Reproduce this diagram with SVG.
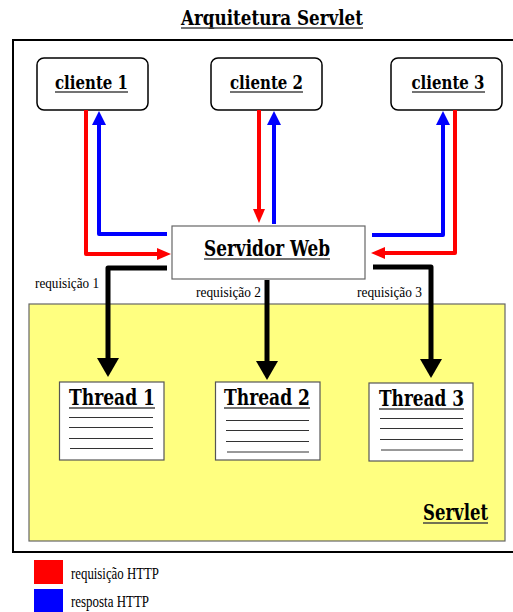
<svg xmlns="http://www.w3.org/2000/svg" width="513" height="612" viewBox="0 0 513 612">
<style>
.bt{font-family:'DejaVu Serif Condensed','DejaVu Serif',serif;font-weight:bold;font-stretch:condensed;fill:#000;text-anchor:middle}
.st{font-family:'Liberation Serif',serif;fill:#000}
.ul{stroke:#444;stroke-width:1.5}
.cl{fill:#fff;stroke:#000;stroke-width:1.5}
.th{fill:#fff;stroke:#555;stroke-width:1.2}
.tl{stroke:#333;stroke-width:1}
.red{fill:none;stroke:#f00;stroke-width:4;stroke-linejoin:round}
.blue{fill:none;stroke:#00f;stroke-width:4;stroke-linejoin:round}
.blk{fill:none;stroke:#000;stroke-width:5;stroke-linejoin:round}
</style>
<defs>
<marker id="aR" viewBox="0 0 14 12" refX="0" refY="6" markerWidth="14" markerHeight="12" orient="auto" markerUnits="userSpaceOnUse"><path d="M0,0 L14,6 L0,12 z" fill="#f00"/></marker>
<marker id="aB" viewBox="0 0 14 14" refX="0" refY="7" markerWidth="14" markerHeight="14" orient="auto" markerUnits="userSpaceOnUse"><path d="M0,0 L14,7 L0,14 z" fill="#00f"/></marker>
<marker id="aK" viewBox="0 0 19 22" refX="0" refY="11" markerWidth="19" markerHeight="22" orient="auto" markerUnits="userSpaceOnUse"><path d="M0,0 L19,11 L0,22 z" fill="#000"/></marker>
</defs>
<rect width="513" height="612" fill="#fff"/>
<g id="title">
<text class="bt" x="272" y="25" font-size="21" textLength="182" lengthAdjust="spacingAndGlyphs">Arquitetura Servlet</text>
<line class="ul" x1="181" y1="28" x2="363" y2="28"/>
</g>
<rect id="frame" x="13" y="40" width="510" height="512" fill="none" stroke="#000" stroke-width="2"/>
<g id="servlet">
<rect x="29" y="304" width="476" height="237" fill="#ffff80" stroke="#666" stroke-width="1.2"/>
<text class="bt" x="455.5" y="520" font-size="22" textLength="65" lengthAdjust="spacingAndGlyphs">Servlet</text>
<line class="ul" x1="423" y1="523" x2="488" y2="523"/>
</g>
<g id="cliente1">
<rect class="cl" x="37" y="58" width="111" height="52" rx="7"/>
<text class="bt" x="91.5" y="89" font-size="19" textLength="73" lengthAdjust="spacingAndGlyphs">cliente 1</text>
<line class="ul" x1="55" y1="92" x2="128" y2="92"/>
</g>
<g id="cliente2">
<rect class="cl" x="211" y="58" width="111" height="52" rx="7"/>
<text class="bt" x="266.5" y="89" font-size="19" textLength="73" lengthAdjust="spacingAndGlyphs">cliente 2</text>
<line class="ul" x1="230" y1="92" x2="303" y2="92"/>
</g>
<g id="cliente3">
<rect class="cl" x="391" y="58" width="111" height="52" rx="7"/>
<text class="bt" x="448" y="89" font-size="19" textLength="73" lengthAdjust="spacingAndGlyphs">cliente 3</text>
<line class="ul" x1="412" y1="92" x2="485" y2="92"/>
</g>
<g id="servidor">
<rect x="172" y="226" width="193" height="53" fill="#fff" stroke="#666" stroke-width="1.2"/>
<text class="bt" x="267" y="256" font-size="22" textLength="126" lengthAdjust="spacingAndGlyphs">Servidor Web</text>
<line class="ul" x1="204" y1="259" x2="330" y2="259"/>
</g>
<g id="thread1">
<rect class="th" x="59.5" y="382" width="104.5" height="78"/>
<text class="bt" x="112" y="405" font-size="22" textLength="86" lengthAdjust="spacingAndGlyphs">Thread 1</text>
<line class="ul" x1="69" y1="408" x2="155" y2="408"/>
<line class="tl" x1="69" y1="417.5" x2="153" y2="417.5"/>
<line class="tl" x1="69" y1="427.5" x2="153" y2="427.5"/>
<line class="tl" x1="69" y1="438.5" x2="153" y2="438.5"/>
<line class="tl" x1="70" y1="448.5" x2="153" y2="448.5"/>
</g>
<g id="thread2">
<rect class="th" x="215.5" y="382" width="104.5" height="78"/>
<text class="bt" x="267" y="405" font-size="22" textLength="86" lengthAdjust="spacingAndGlyphs">Thread 2</text>
<line class="ul" x1="224" y1="408" x2="310" y2="408"/>
<line class="tl" x1="226" y1="420.5" x2="309" y2="420.5"/>
<line class="tl" x1="226" y1="430.5" x2="309" y2="430.5"/>
<line class="tl" x1="226" y1="441.5" x2="309" y2="441.5"/>
<line class="tl" x1="227" y1="452" x2="309" y2="452"/>
</g>
<g id="thread3">
<rect class="th" x="369" y="383" width="104" height="78"/>
<text class="bt" x="421.5" y="406" font-size="22" textLength="85" lengthAdjust="spacingAndGlyphs">Thread 3</text>
<line class="ul" x1="379" y1="409" x2="464" y2="409"/>
<line class="tl" x1="380" y1="418.5" x2="463" y2="418.5"/>
<line class="tl" x1="380" y1="428.5" x2="463" y2="428.5"/>
<line class="tl" x1="380" y1="439.5" x2="463" y2="439.5"/>
<line class="tl" x1="381" y1="450" x2="463" y2="450"/>
</g>
<g id="connectors">
<path class="red" d="M86,110 V254 H157" marker-end="url(#aR)"/>
<path class="blue" d="M167,234 H99 V125" marker-end="url(#aB)"/>
<path class="red" d="M259,110 V209" marker-end="url(#aR)"/>
<path class="blue" d="M274,224 V125" marker-end="url(#aB)"/>
<path class="red" d="M455,110 V253 H385" marker-end="url(#aR)"/>
<path class="blue" d="M372,235 H443 V125" marker-end="url(#aB)"/>
<path class="blk" d="M167,268 H108 V358" marker-end="url(#aK)"/>
<path class="blk" d="M267,280 V361" marker-end="url(#aK)"/>
<path class="blk" d="M373,267 H431 V359" marker-end="url(#aK)"/>
</g>
<g id="labels">
<text class="st" x="35" y="288" font-size="14.5" textLength="64" lengthAdjust="spacingAndGlyphs">requisição 1</text>
<text class="st" x="196" y="297" font-size="14.5" textLength="65" lengthAdjust="spacingAndGlyphs">requisição 2</text>
<text class="st" x="357" y="297" font-size="14.5" textLength="65" lengthAdjust="spacingAndGlyphs">requisição 3</text>
</g>
<g id="legend">
<rect x="34" y="560" width="29" height="24" fill="#f00"/>
<rect x="34" y="589" width="29" height="23" fill="#00f"/>
<text class="st" x="71" y="579" font-size="17" textLength="88" lengthAdjust="spacingAndGlyphs">requisição HTTP</text>
<text class="st" x="71" y="607" font-size="17" textLength="78" lengthAdjust="spacingAndGlyphs">resposta HTTP</text>
</g>
</svg>
